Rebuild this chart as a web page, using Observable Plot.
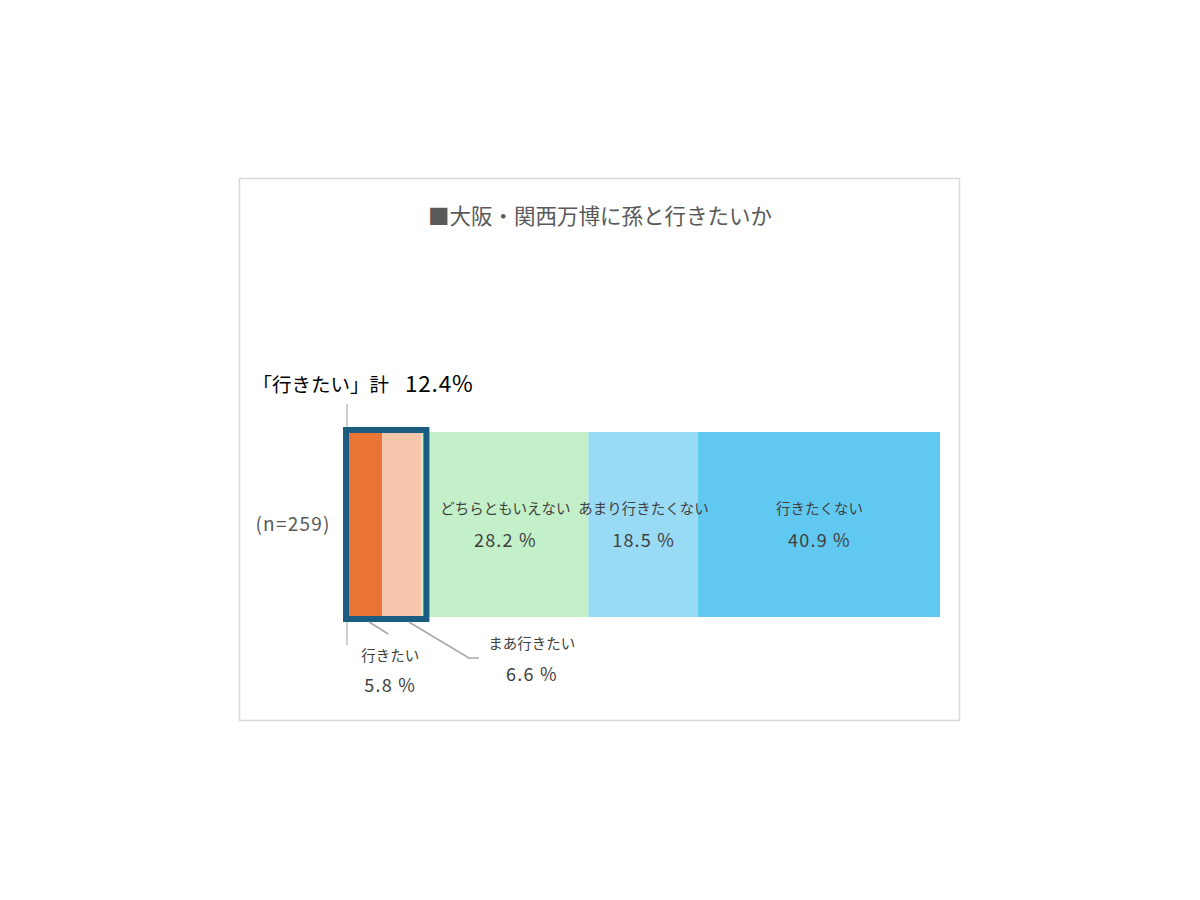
<!DOCTYPE html>
<html><head><meta charset="utf-8">
<script src="https://cdn.jsdelivr.net/npm/d3@7"></script>
<script src="https://cdn.jsdelivr.net/npm/@observablehq/plot@0.6"></script>
<style>
html,body{margin:0;padding:0;background:#fff;}
#chart{width:1200px;height:900px;}
text{font-family:"Noto Sans CJK JP","Noto Sans",sans-serif;}
</style>
</head><body><div id="chart"></div>
<script>
const title = "■大阪・関西万博に孫と行きたいか";
const sampleLabel = "(n=259)";
const categories = ["行きたい","まあ行きたい","どちらともいえない","あまり行きたくない","行きたくない"];
const values = [5.8, 6.6, 28.2, 18.5, 40.9];
const colors = ["#E97434","#F5C6AC","#C3F0C8","#99DBF5","#61C9F1"];
const positiveGroup = ["行きたい","まあ行きたい"];
const totalLabel = "「行きたい」計";

const data = categories.map((c,i)=>({cat:c, value:values[i], row:sampleLabel, order:i}));
const positiveTotal = values.slice(0,2).reduce((a,b)=>a+b,0);

const stackOpts = {x:"value", y:"row", order:null};

const plot = Plot.plot({
  width:1200, height:900,
  marginLeft:0, marginRight:0, marginTop:0, marginBottom:0,
  x:{domain:[0,100], range:[348,940], axis:null},
  y:{domain:[sampleLabel], range:[432,617], padding:0, axis:null},
  color:{domain:categories, range:colors},
  marks:[
    Plot.barX(data, Plot.stackX({...stackOpts, fill:"cat"})),
    Plot.barX([{row:sampleLabel, x1:0, x2:positiveTotal}], {x1:"x1", x2:"x2", y:"row", fill:"none", stroke:"#1B5C80", strokeWidth:6, insetLeft:-2, insetRight:-5, insetTop:-2, insetBottom:-2}),
    Plot.text(data, Plot.stackX({...stackOpts, text:d=>positiveGroup.includes(d.cat)?"":d.cat, dy:-16, fill:"#404040", fontSize:14.5})),
    Plot.text(data, Plot.stackX({...stackOpts, text:d=>positiveGroup.includes(d.cat)?"":d.value.toFixed(1)+" %", dy:16, fill:"#404040", fontSize:18})),
    Plot.text([sampleLabel], {x:0, y:d=>d, text:d=>d, textAnchor:"end", dx:-18, fill:"#595959", fontSize:19})
  ]
});
document.getElementById("chart").appendChild(plot);

const svg = d3.select(plot);
const xs = plot.scale("x");
const ys = plot.scale("y");
svg.selectAll("text").filter(function(){ return /%$|n=/.test(this.textContent); }).attr("letter-spacing", 1.2);
// frame
svg.insert("rect", ":first-child").attr("x",239.5).attr("y",178.5).attr("width",720).attr("height",542)
  .attr("fill","none").attr("stroke","#D9D9D9").attr("stroke-width",1.5);
svg.append("text").attr("x",600).attr("y",224).attr("text-anchor","middle")
  .attr("fill","#595959").attr("font-size",21.5).text(title);

const x0 = xs.apply(0);
const barTop = ys.apply(sampleLabel);
const barBottom = barTop+ys.bandwidth;
// vertical guide line
svg.insert("line", "g").attr("x1",x0-1).attr("x2",x0-1).attr("y1",barTop-28).attr("y2",barBottom+28)
  .attr("stroke","#BFBFBF").attr("stroke-width",1.5);
// total label
svg.append("text").attr("x",x0+41).attr("y",barTop-40).attr("text-anchor","end")
  .attr("fill","#000").attr("font-size",19.5).text(totalLabel);
svg.append("text").attr("x",x0+57).attr("y",barTop-40).attr("text-anchor","start")
  .attr("fill","#000").attr("font-size",22.5).attr("letter-spacing",0.8).text(positiveTotal.toFixed(1)+"%");

// labels below for positive group
const mid0 = xs.apply(values[0]/2);
const mid1 = xs.apply(values[0]+values[1]/2);
svg.append("path").attr("d",`M${mid0+4},${barBottom+5}L${mid0+23},${barBottom+17}`).attr("stroke","#A6A6A6").attr("stroke-width",1.5).attr("fill","none");
svg.append("path").attr("d",`M${mid1+7},${barBottom+5}L${mid1+67},${barBottom+41}L${mid1+77},${barBottom+41}`).attr("stroke","#A6A6A6").attr("stroke-width",1.5).attr("fill","none");
const lbl = (x,y,t,fs,ls)=>svg.append("text").attr("x",x).attr("y",y).attr("text-anchor","middle").attr("fill","#404040").attr("font-size",fs).attr("letter-spacing",ls).text(t);
lbl(mid0+25, barBottom+44, categories[0], 14.5, 0);
lbl(mid0+25, barBottom+75, values[0].toFixed(1)+" %", 18, 1.2);
lbl(mid1+130, barBottom+32, categories[1], 14.5, 0);
lbl(mid1+130, barBottom+64, values[1].toFixed(1)+" %", 18, 1.2);
</script>
</body></html>
